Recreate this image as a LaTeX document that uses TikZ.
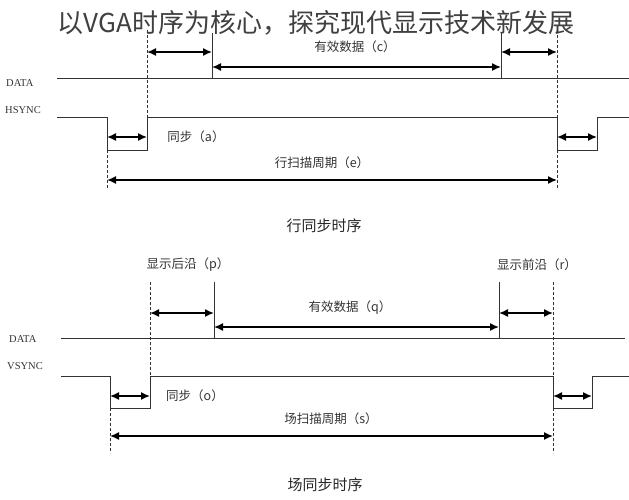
\documentclass[tikz,border=0pt]{standalone}
\usepackage{fontspec}
\setmainfont{Liberation Serif}
\newfontfamily\cjk{Noto Sans CJK SC}
\usetikzlibrary{arrows.meta,positioning}

\begin{document}
\begin{tikzpicture}[x=1pt, y=-1pt,
		sig/.style={line width=0.7pt, black!80},
		guide/.style={line width=0.6pt, black!80, dash pattern=on 3pt off 2pt},
		span/.style={line width=1.5pt, {Latex[length=9pt,width=8pt]}-{Latex[length=9pt,width=8pt]}},
		lab/.style={font=\cjk\fontsize{12.5}{14}\selectfont, text=black!80, inner sep=1pt},
		captxt/.style={font=\cjk\fontsize{15}{17}\selectfont, text=black!85},
		sname/.style={font=\fontsize{10.5}{12}\selectfont, anchor=west, inner sep=0pt, text=black!80}]
			\useasboundingbox (0,0) rectangle (629,500);
			
			\node (title) at (316,23) {\cjk\fontsize{26}{28}\selectfont\color{black!75}以VGA时序为核心，探究现代显示技术新发展};
			
			\node (hdata) [sname] at (6,83) {DATA};
			\node (hsync) [sname] at (5,110) {HSYNC};
			\node (vdata) [sname] at (9,339) {DATA};
			\node (vsync) [sname] at (7,366) {VSYNC};
			
			\coordinate (hd0) at (57,78);   \coordinate (hd1) at (629,78);
			\coordinate (h0) at (57,117);   \coordinate (h1) at (107,117);
			\coordinate (h2) at (107,150);  \coordinate (h3) at (147,150);
			\coordinate (h4) at (147,117);  \coordinate (h5) at (557,117);
			\coordinate (h6) at (557,150);  \coordinate (h7) at (597,150);
			\coordinate (h8) at (597,117);  \coordinate (h9) at (629,117);
			\coordinate (hb) at (212,33);   \coordinate (hbd) at (212,78);
			\coordinate (hf) at (501,33);   \coordinate (hfd) at (501,78);
			\coordinate (ht1) at (147,30);  \coordinate (ht2) at (557,30);
			\coordinate (hl1) at (107,188); \coordinate (hl2) at (557,188);
			
			\draw[sig] (hd0) -- (hd1);
			\draw[sig] (h0) -- (h1) -- (h2) -- (h3) -- (h4) -- (h5) -- (h6) -- (h7) -- (h8) -- (h9);
			\draw[sig] (hb) -- (hbd);
			\draw[sig] (hf) -- (hfd);
			\draw[guide] (ht1) -- (h4);
			\draw[guide] (ht2) -- (h5);
			\draw[guide] (h2) -- (hl1);
			\draw[guide] (h6) -- (hl2);
			
			\draw[span] (ht1 |- 0,52) -- (hb |- 0,52);
			\draw[span] (hf |- 0,52) -- (ht2 |- 0,52);
			\draw[span] (hb |- 0,67) -- (hf |- 0,67);
			\draw[span] (h1 |- 0,137) -- (h4 |- 0,137);
			\draw[span] (h5 |- 0,137) -- (h8 |- 0,137);
			\draw[span] (h1 |- 0,180) -- (h5 |- 0,180);
			
			\node (hc) [lab] at (355,47) {有效数据（c）};
			\node (ha) [lab] at (196,137) {同步（a）};
			\node (he) [lab] at (322,163) {行扫描周期（e）};
			\node (hcap) [captxt] at (324,226) {行同步时序};
			
			\coordinate (vd0) at (61,338);  \coordinate (vd1) at (625,338);
			\coordinate (v0) at (61,376);   \coordinate (v1) at (110,376);
			\coordinate (v2) at (110,408);  \coordinate (v3) at (150,408);
			\coordinate (v4) at (150,376);  \coordinate (v5) at (553,376);
			\coordinate (v6) at (553,408);  \coordinate (v7) at (592,408);
			\coordinate (v8) at (592,376);  \coordinate (v9) at (629,376);
			\coordinate (vb) at (214,282);  \coordinate (vbd) at (214,338);
			\coordinate (vf) at (499,282);  \coordinate (vfd) at (499,338);
			\coordinate (vt1) at (150,282); \coordinate (vt2) at (553,282);
			\coordinate (vl1) at (110,453); \coordinate (vl2) at (553,453);
			
			\draw[sig] (vd0) -- (vd1);
			\draw[sig] (v0) -- (v1) -- (v2) -- (v3) -- (v4) -- (v5) -- (v6) -- (v7) -- (v8) -- (v9);
			\draw[sig] (vb) -- (vbd);
			\draw[sig] (vf) -- (vfd);
			\draw[guide] (vt1) -- (v4);
			\draw[guide] (vt2) -- (v5);
			\draw[guide] (v2) -- (vl1);
			\draw[guide] (v6) -- (vl2);
			
			\draw[span] (vt1 |- 0,313) -- (vb |- 0,313);
			\draw[span] (vf |- 0,313) -- (vt2 |- 0,313);
			\draw[span] (vb |- 0,327) -- (vf |- 0,327);
			\draw[span] (v1 |- 0,396) -- (v4 |- 0,396);
			\draw[span] (v5 |- 0,396) -- (v8 |- 0,396);
			\draw[span] (v1 |- 0,436) -- (v5 |- 0,436);
			
			\node (vp) [lab] at (188,265) {显示后沿（p）};
			\node (vr) [lab] at (537,265) {显示前沿（r）};
			\node (vq) [lab] at (350,308) {有效数据（q）};
			\node (vo) [lab] at (195,396) {同步（o）};
			\node (vs) [lab] at (331,419) {场扫描周期（s）};
			\node (vcap) [captxt] at (325,485) {场同步时序};
		\end{tikzpicture}
\end{document}
